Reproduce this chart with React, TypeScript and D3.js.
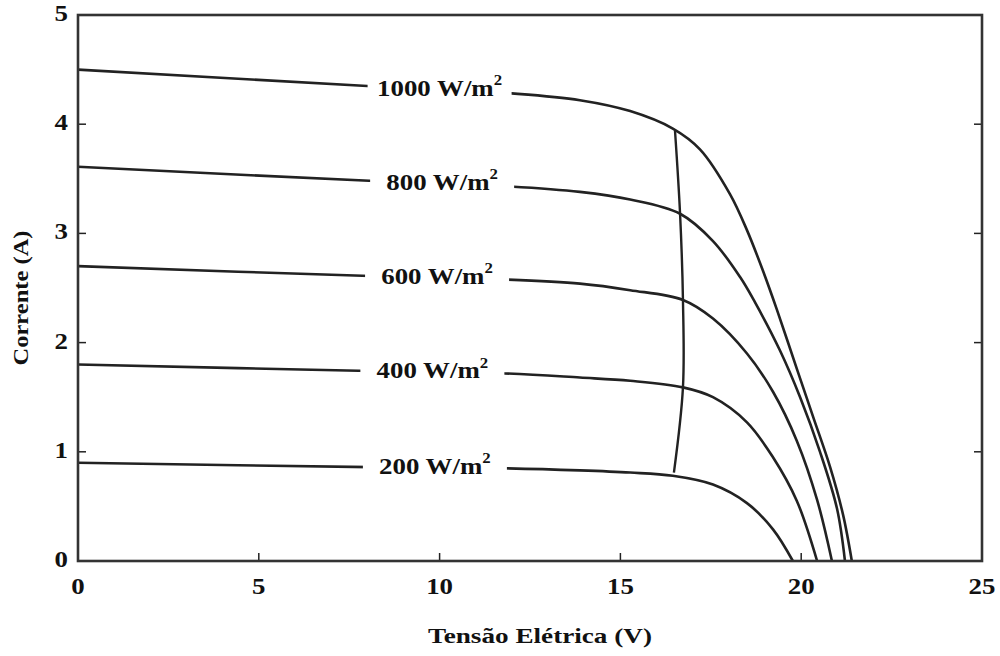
import React from "react";
import * as d3 from "d3";

const xTicks = [0, 5, 10, 15, 20, 25];
const yTicks = [0, 1, 2, 3, 4, 5];

const irradianceLabels = ["1000", "800", "600", "400", "200"];

const curve1000: [number, number][] = [
  [0, 4.5], [8.0, 4.35], [12.08, 4.28], [13.88, 4.22], [15.27, 4.12], [16.45, 3.96],
  [17.2, 3.77], [18.03, 3.36], [18.5, 3.03], [18.94, 2.66], [19.33, 2.3], [19.88, 1.76],
  [20.33, 1.32], [20.8, 0.86], [21.16, 0.42], [21.4, 0],
];
const curve800: [number, number][] = [
  [0, 3.61], [8.2, 3.48], [11.95, 3.43], [13.88, 3.38], [15.27, 3.31], [16.65, 3.18],
  [17.56, 2.93], [18.31, 2.6], [18.72, 2.37], [19.41, 1.93], [19.97, 1.5], [20.52, 1.0],
  [20.99, 0.48], [21.21, 0],
];
const curve600: [number, number][] = [
  [0, 2.7], [8.08, 2.61], [11.67, 2.58], [13.88, 2.54], [15.27, 2.48], [16.73, 2.39],
  [17.56, 2.22], [18.5, 1.9], [19.22, 1.55], [19.88, 1.1], [20.44, 0.56], [20.85, 0],
];
const curve400: [number, number][] = [
  [0, 1.8], [8.08, 1.74], [11.67, 1.72], [13.88, 1.68], [15.27, 1.65], [16.73, 1.59],
  [17.56, 1.5], [18.5, 1.27], [19.22, 0.95], [19.88, 0.55], [20.44, 0],
];
const curve200: [number, number][] = [
  [0, 0.9], [8.08, 0.86], [11.67, 0.85], [13.88, 0.83], [15.27, 0.81], [16.45, 0.78],
  [17.56, 0.7], [18.5, 0.53], [19.22, 0.29], [19.77, 0],
];
const curves = [curve1000, curve800, curve600, curve400, curve200];

const mppLine: [number, number][] = [
  [16.51, 3.94], [16.65, 3.18], [16.73, 2.39], [16.73, 1.59], [16.48, 0.81],
];

const labelCenterV = [10.0, 10.07, 9.93, 9.8, 9.87];

const W = 1000;
const H = 656;
const left = 78, right = 982, top = 15, bottom = 561;

function interpI(pts: [number, number][], v: number) {
  for (let i = 0; i < pts.length - 1; i++) {
    const [v0, i0] = pts[i];
    const [v1, i1] = pts[i + 1];
    if (v >= v0 && v <= v1) return i0 + ((v - v0) / (v1 - v0)) * (i1 - i0);
  }
  return pts[pts.length - 1][1];
}

export default function App() {
  const x = d3.scaleLinear().domain([0, 25]).range([left, right]);
  const y = d3.scaleLinear().domain([0, 5]).range([bottom, top]);
  const line = d3
    .line<[number, number]>()
    .x((d) => x(d[0]))
    .y((d) => y(d[1]))
    .curve(d3.curveCatmullRom.alpha(0.5));
  const mpp = d3
    .line<[number, number]>()
    .x((d) => x(d[0]))
    .y((d) => y(d[1]))
    .curve(d3.curveCatmullRom);

  const font = "'Times New Roman', 'Liberation Serif', Tinos, serif";
  const stroke = "#222";
  const sx = 1.12;

  return (
    <svg
      width={W}
      height={H}
      style={{ position: "absolute", left: 0, top: 0, background: "#fff", fontFamily: font }}
    >
      <rect x={0} y={0} width={W} height={H} fill="#fff" />
      {curves.map((c, i) => (
        <path key={i} d={line(c) || ""} fill="none" stroke={stroke} strokeWidth={2.6} />
      ))}
      <path d={mpp(mppLine) || ""} fill="none" stroke={stroke} strokeWidth={2.4} />

      {curves.map((c, i) => {
        const cx = x(labelCenterV[i]);
        const cy = y(interpI(c, labelCenterV[i]));
        return (
          <g key={"lab" + i}>
            <rect x={cx - 72} y={cy - 14} width={144} height={28} fill="#fff" />
            <g transform={`translate(${cx},${cy - 2}) scale(${sx},1)`}>
              <text
                textAnchor="middle"
                dominantBaseline="central"
                fontSize={24}
                fontWeight="bold"
                fill="#111"
              >
                {irradianceLabels[i]} W/m
                <tspan fontSize={15} dy={-8}>2</tspan>
              </text>
            </g>
          </g>
        );
      })}

      {xTicks.map((t) => (
        <g key={"xt" + t}>
          {t > 0 && t < 25 && (
            <line x1={x(t)} x2={x(t)} y1={bottom} y2={bottom - 8} stroke={stroke} strokeWidth={1.5} />
          )}
          <g transform={`translate(${x(t)},${bottom + 25}) scale(${sx},1)`}>
            <text textAnchor="middle" dominantBaseline="central" fontSize={24} fontWeight="bold" fill="#111">
              {t}
            </text>
          </g>
        </g>
      ))}
      {yTicks.map((t) => (
        <g key={"yt" + t}>
          {t > 0 && t < 5 && (
            <>
              <line x1={left} x2={left + 8} y1={y(t)} y2={y(t)} stroke={stroke} strokeWidth={1.5} />
              <line x1={right} x2={right - 8} y1={y(t)} y2={y(t)} stroke={stroke} strokeWidth={1.5} />
            </>
          )}
          <g transform={`translate(${left - 10},${y(t) - 2}) scale(${sx},1)`}>
            <text textAnchor="end" dominantBaseline="central" fontSize={24} fontWeight="bold" fill="#111">
              {t}
            </text>
          </g>
        </g>
      ))}

      <rect
        x={left}
        y={top}
        width={right - left}
        height={bottom - top}
        fill="none"
        stroke="#333"
        strokeWidth={2.6}
      />

      <text
        x={540}
        y={643}
        textAnchor="middle"
        fontSize={22}
        fontWeight="bold"
        fill="#111"
        textLength={224}
        lengthAdjust="spacingAndGlyphs"
      >
        Tensão Elétrica (V)
      </text>
      <text
        transform="translate(28,298) rotate(-90)"
        textAnchor="middle"
        fontSize={22}
        fontWeight="bold"
        fill="#111"
        textLength={135}
        lengthAdjust="spacingAndGlyphs"
      >
        Corrente (A)
      </text>
    </svg>
  );
}
